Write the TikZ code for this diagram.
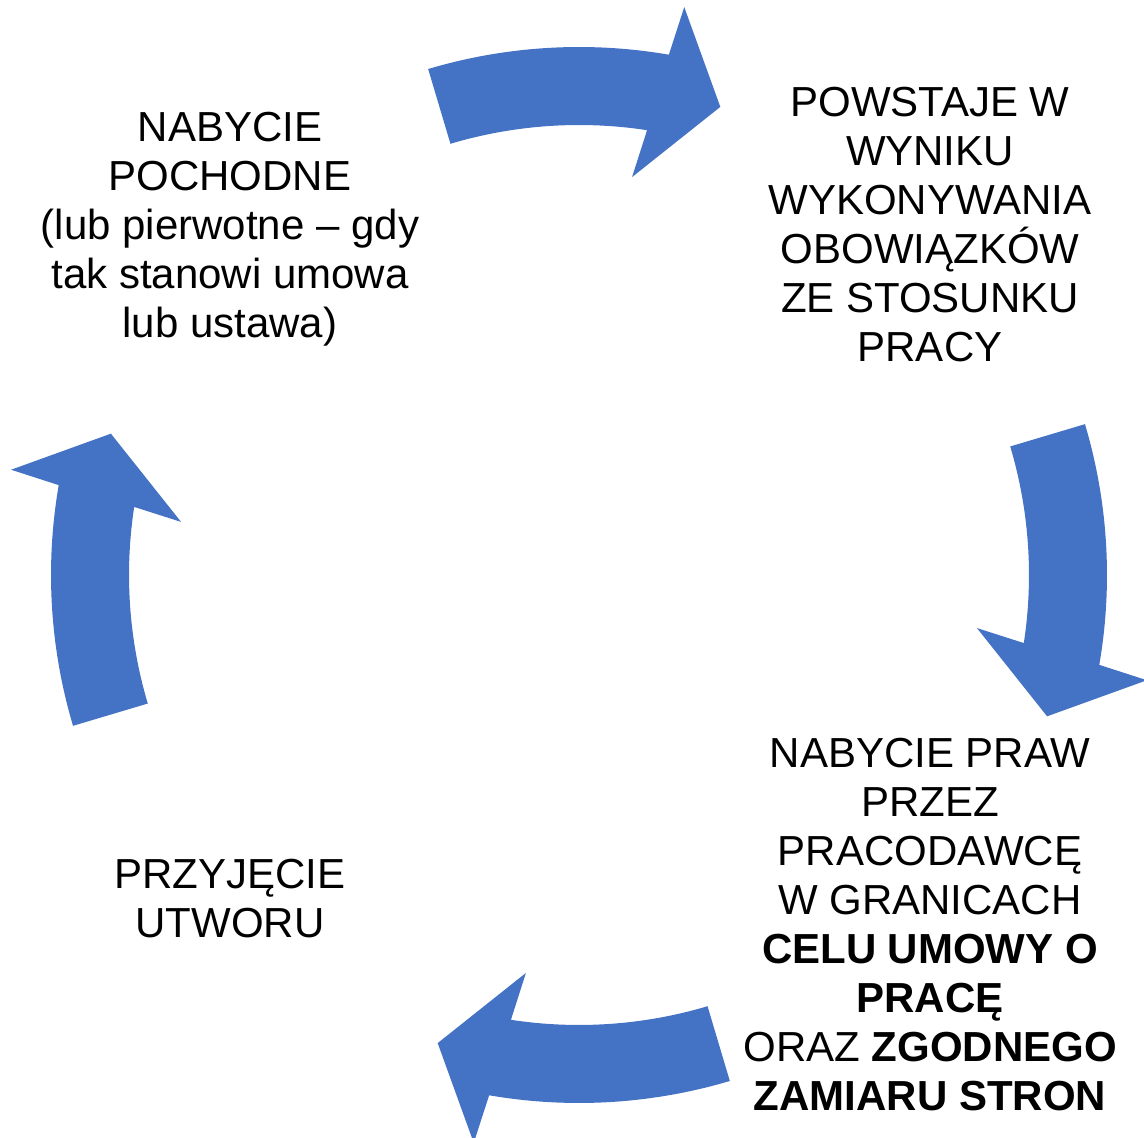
\documentclass[tikz,border=0pt]{standalone}
\usepackage{fontspec}
\setmainfont{Liberation Sans}
\definecolor{arrowblue}{RGB}{68,114,196}
\tikzset{
  cyclearrow/.style={fill=arrowblue, draw=none},
  label text/.style={align=center, inner sep=0pt, anchor=base, font=\fontsize{42}{49}\selectfont, text=black}
}
\begin{document}
\begin{tikzpicture}[x=1pt,y=1pt]
\useasboundingbox (0,0) rectangle (1144,1138);
\coordinate (C) at (579,563);
\foreach \a in {0,-90,-180,-270}{
  \begin{scope}[shift={(C)}, rotate=\a]
    \fill[cyclearrow] (106.6:528) arc[start angle=106.6, end angle=80.2, radius=528]
      -- (79.5:577.6) -- (73.2:489) -- (82.4:401.5) -- (81.3:450)
      arc[start angle=81.3, end angle=106.6, radius=450] -- cycle;
  \end{scope}
}
\node[label text] (tl) at (230,800) {NABYCIE\\POCHODNE\\(lub pierwotne – gdy\\tak stanowi umowa\\lub ustawa)};
\node[label text] (tr) at (930,776) {POWSTAJE W\\WYNIKU\\WYKONYWANIA\\OBOWIĄZKÓW\\ZE STOSUNKU\\PRACY};
\node[label text] (br) at (930,27) {NABYCIE PRAW\\PRZEZ\\PRACODAWCĘ\\W GRANICACH\\\textbf{CELU UMOWY O}\\\textbf{PRACĘ}\\ORAZ \textbf{ZGODNEGO}\\\textbf{ZAMIARU STRON}};
\node[label text] (bl) at (230,200) {PRZYJĘCIE\\UTWORU};
\end{tikzpicture}
\end{document}
